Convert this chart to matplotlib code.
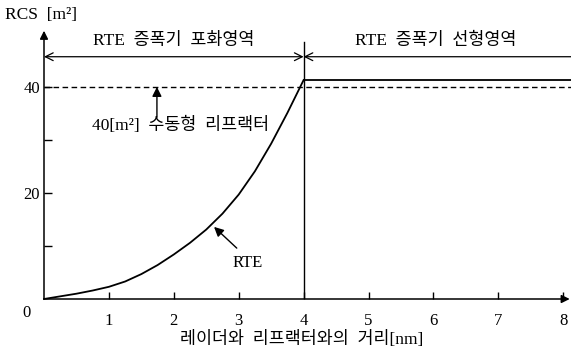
import numpy as np
import matplotlib.pyplot as plt

plt.rcParams['font.family'] = ['Liberation Serif', 'Noto Sans CJK KR']

# RTE radar cross section vs. distance (saturated region, 0-4 nm)
dist_sat = [0, 0.25, 0.5, 0.75, 1.0, 1.25, 1.5, 1.75, 2.0, 2.25, 2.5, 2.75, 3.0, 3.25, 3.5, 3.75, 4.0]
rcs_sat = [0, 0.5, 1.0, 1.6, 2.3, 3.3, 4.7, 6.4, 8.4, 10.6, 13.1, 16.1, 19.7, 24.1, 29.3, 35.1, 41.3]

# linear region (4-8 nm) and passive reflector level
dist_lin = [4.0, 8.12]
rcs_lin = [41.3, 41.3]
passive_rcs = 40

x_ticks = [1, 2, 3, 4, 5, 6, 7, 8]
y_ticks = [20, 40]
y_minor = [10, 30]

W, H = 571, 351
fig = plt.figure(figsize=(W / 100, H / 100), dpi=100)
ax = fig.add_axes([44 / W, 52 / H, 527 / W, 299 / H])
ax.set_xlim(0, 8.12)
ax.set_ylim(0, 56.4)
for s in ax.spines.values():
    s.set_visible(False)

fs = 12.5
k = 'black'

# axes drawn as arrows
ax.annotate('', xy=(8.1, 0), xytext=(0, 0), annotation_clip=False,
            arrowprops=dict(arrowstyle='-|>', color=k, lw=1.1, mutation_scale=12, shrinkA=0, shrinkB=0))
ax.annotate('', xy=(0, 50.6), xytext=(0, 0), annotation_clip=False,
            arrowprops=dict(arrowstyle='-|>', color=k, lw=1.1, mutation_scale=12, shrinkA=0, shrinkB=0))

ax.set_xticks(x_ticks)
ax.set_xticklabels([str(t) for t in x_ticks], fontsize=12)
ax.set_yticks(y_ticks)
ax.set_yticklabels([str(t) for t in y_ticks], fontsize=12)
ax.set_yticks(y_minor, minor=True)
ax.tick_params(axis='x', direction='in', length=5, width=1, pad=10)
ax.tick_params(axis='y', which='both', direction='in', length=6, width=1, pad=3)
ax.text(-0.2, -2.7, '0', fontsize=12, ha='right', va='center')

# curves
ax.plot(dist_sat, rcs_sat, color=k, lw=1.3, clip_on=False)
ax.plot(dist_lin, rcs_lin, color=k, lw=1.3, clip_on=False)
ax.plot([0, 8.12], [passive_rcs, passive_rcs], color=k, lw=1.0, ls=(0, (4, 2.5)), clip_on=False)

# region boundary and span arrows
ax.plot([4, 4], [0, 48.5], color=k, lw=1.0)
ax.annotate('', xy=(4, 45.7), xytext=(0, 45.7),
            arrowprops=dict(arrowstyle='<->', color=k, lw=0.9, mutation_scale=14, shrinkA=0, shrinkB=0))
ax.annotate('', xy=(4, 45.7), xytext=(8.12, 45.7), annotation_clip=False,
            arrowprops=dict(arrowstyle='->', color=k, lw=0.9, mutation_scale=14, shrinkA=0, shrinkB=0))
ax.text(2.0, 48.7, 'RTE  증폭기  포화영역', fontsize=fs, ha='center', va='center')
ax.text(6.04, 48.7, 'RTE  증폭기  선형영역', fontsize=fs, ha='center', va='center')

# annotations
ax.annotate('', xy=(1.74, 40), xytext=(1.74, 34.3),
            arrowprops=dict(arrowstyle='-|>', color=k, lw=1.0, mutation_scale=14, shrinkA=0, shrinkB=0))
ax.text(2.1, 32.8, '40[m²]  수동형  리프랙터', fontsize=fs, ha='center', va='center')
ax.annotate('', xy=(2.62, 13.6), xytext=(2.97, 9.6),
            arrowprops=dict(arrowstyle='-|>', color=k, lw=1.0, mutation_scale=14, shrinkA=0, shrinkB=0))
ax.text(3.13, 6.8, 'RTE', fontsize=12, ha='center', va='center')

fig.text(5 / W, 1 - 15 / H, 'RCS  [m²]', fontsize=fs, ha='left', va='center')
fig.text(302 / W, 1 - 340 / H, '레이더와  리프랙터와의  거리[nm]', fontsize=fs, ha='center', va='center')

fig.savefig('out.png', dpi=100)
